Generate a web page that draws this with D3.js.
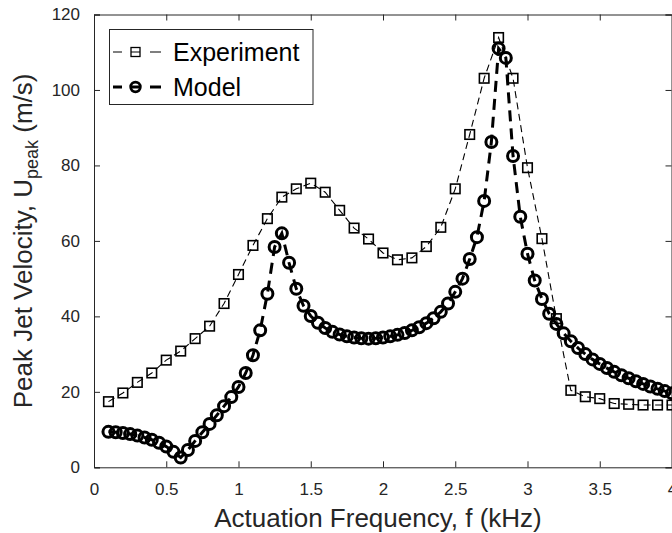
<!DOCTYPE html>
<html>
<head>
<meta charset="utf-8">
<script src="https://cdn.jsdelivr.net/npm/d3@7"></script>
<style>
  html, body { margin: 0; padding: 0; background: #fff; }
  svg { display: block; font-family: "Liberation Sans", Arial, Helvetica, sans-serif; }
</style>
</head>
<body>
<svg id="chart" width="672" height="533"></svg>
<script>
// ---- data ----
const expFreq = [0.1,0.2,0.3,0.4,0.5,0.6,0.7,0.8,0.9,1.0,1.1,1.2,1.3,1.4,1.5,1.6,1.7,1.8,1.9,2.0,
                 2.1,2.2,2.3,2.4,2.5,2.6,2.7,2.8,2.9,3.0,3.1,3.2,3.3,3.4,3.5,3.6,3.7,3.8,3.9,4.0];
const expVel  = [17.4,19.7,22.5,25.0,28.4,30.8,34.1,37.4,43.4,51.1,58.8,65.9,71.6,73.8,75.3,72.9,68.1,63.4,60.5,56.8,
                 55.0,55.5,58.5,63.6,73.8,88.2,103.1,113.9,103.1,79.4,60.6,39.4,20.4,18.7,18.2,16.9,16.7,16.5,16.5,16.5];

const modelFreq = [0.10,0.15,0.20,0.25,0.30,0.35,0.40,0.45,0.50,0.55,0.60,0.65,0.70,0.75,0.80,0.85,0.90,0.95,
                   1.00,1.05,1.10,1.15,1.20,1.25,1.30,1.35,1.40,1.45,1.50,1.55,1.60,1.65,1.70,1.75,1.80,1.85,1.90,1.95,
                   2.00,2.05,2.10,2.15,2.20,2.25,2.30,2.35,2.40,2.45,2.50,2.55,2.60,2.65,2.70,2.75,2.80,2.85,2.90,2.95,
                   3.00,3.05,3.10,3.15,3.20,3.25,3.30,3.35,3.40,3.45,3.50,3.55,3.60,3.65,3.70,3.75,3.80,3.85,3.90,3.95,4.00];
const modelVel  = [9.4,9.3,9.1,8.8,8.4,7.9,7.3,6.5,5.5,4.1,2.6,4.6,7.0,9.3,11.5,13.8,16.2,18.6,
                   21.3,25.0,29.7,36.3,46.0,58.4,62.0,54.2,47.3,42.8,40.1,38.3,36.9,35.9,35.2,34.7,34.4,34.2,34.1,34.2,
                   34.4,34.7,35.1,35.6,36.3,37.1,38.2,39.5,41.2,43.4,46.5,50.0,55.2,61.0,70.6,86.2,111.0,108.5,82.5,66.4,
                   56.6,49.5,44.6,40.7,38.0,35.5,33.4,31.6,30.0,28.6,27.4,26.3,25.3,24.4,23.6,22.8,22.1,21.4,20.8,20.2,19.6];

const xTicks = [0,0.5,1,1.5,2,2.5,3,3.5,4];
const yTicks = [0,20,40,60,80,100,120];
const xLabel = "Actuation Frequency, f (kHz)";
const legendNames = ["Experiment","Model"];

// ---- layout ----
const svg = d3.select("#chart");
const L = 94, R = 672, T = 14.5, B = 467.3;
const axisColor = "#262626";
const x = d3.scaleLinear().domain([0,4]).range([L,R]);
const y = d3.scaleLinear().domain([0,120]).range([B,T]);

// ---- axes (MATLAB style, ticks inward, box) ----
const tickLen = 6;
const gAx = svg.append("g");
const xAxisB = d3.axisBottom(x).tickValues(xTicks).tickSize(-tickLen).tickPadding(tickLen + 10).tickFormat(d3.format("~g"));
gAx.append("g").attr("transform", `translate(0,${B})`).call(xAxisB)
  .call(g => { g.select(".domain").attr("stroke", axisColor); g.selectAll(".tick line").attr("stroke", axisColor);
               g.selectAll("text").attr("fill", axisColor).attr("font-size", 17).attr("font-family", null); });
const xAxisT = d3.axisTop(x).tickValues(xTicks).tickSize(-tickLen).tickFormat("");
gAx.append("g").attr("transform", `translate(0,${T})`).call(xAxisT)
  .call(g => { g.select(".domain").attr("stroke", axisColor); g.selectAll(".tick line").attr("stroke", axisColor); });
const yAxisL = d3.axisLeft(y).tickValues(yTicks).tickSize(-tickLen).tickPadding(tickLen + 8).tickFormat(d3.format("d"));
gAx.append("g").attr("transform", `translate(${L},0)`).call(yAxisL)
  .call(g => { g.select(".domain").attr("stroke", axisColor); g.selectAll(".tick line").attr("stroke", axisColor);
               g.selectAll("text").attr("fill", axisColor).attr("font-size", 17).attr("font-family", null); });
const yAxisR = d3.axisRight(y).tickValues(yTicks).tickSize(-tickLen).tickFormat("");
gAx.append("g").attr("transform", `translate(${R - 0.5},0)`).call(yAxisR)
  .call(g => { g.select(".domain").attr("stroke", axisColor); g.selectAll(".tick line").attr("stroke", axisColor); });
gAx.selectAll(".domain").attr("stroke-width", 1);

// axis labels
svg.append("text").attr("x", 378).attr("y", 526.5).attr("text-anchor", "middle")
  .attr("font-size", 26).attr("fill", axisColor).text(xLabel);

const yl = svg.append("text").attr("transform", `translate(32,${(T + B) / 2}) rotate(-90)`)
  .attr("text-anchor", "middle").attr("font-size", 26).attr("fill", axisColor);
yl.append("tspan").text("Peak Jet Velocity, U");
yl.append("tspan").attr("font-size", 18).attr("dy", 6).text("peak");
yl.append("tspan").attr("dy", -6).text(" (m/s)");

// ---- series ----
const expData = expFreq.map((f, i) => ({f, v: expVel[i]}));
const modelData = modelFreq.map((f, i) => ({f, v: modelVel[i]}));
const line = d3.line().x(d => x(d.f)).y(d => y(d.v));

const gData = svg.append("g");
// Experiment
gData.append("path").datum(expData).attr("d", line)
  .attr("fill", "none").attr("stroke", "#000").attr("stroke-width", 1.1).attr("stroke-dasharray", "7,4.5");
const sq = 9.5;
gData.selectAll("rect.exp").data(expData).join("rect").attr("class", "exp")
  .attr("x", d => x(d.f) - sq / 2).attr("y", d => y(d.v) - sq / 2)
  .attr("width", sq).attr("height", sq)
  .attr("fill", "none").attr("stroke", "#000").attr("stroke-width", 1.6);

// Model
gData.append("path").datum(modelData).attr("d", line)
  .attr("fill", "none").attr("stroke", "#000").attr("stroke-width", 3).attr("stroke-dasharray", "11,7");
gData.selectAll("circle.model").data(modelData).join("circle").attr("class", "model")
  .attr("cx", d => x(d.f)).attr("cy", d => y(d.v)).attr("r", 5.5)
  .attr("fill", "none").attr("stroke", "#000").attr("stroke-width", 3);

// ---- legend ----
const lg = svg.append("g");
lg.append("rect").attr("x", 109.5).attr("y", 29.5).attr("width", 203.5).attr("height", 75)
  .attr("fill", "#fff").attr("stroke", axisColor).attr("stroke-width", 1);
const rows = [52, 87];
lg.append("line").attr("x1", 113).attr("x2", 167).attr("y1", rows[0]).attr("y2", rows[0])
  .attr("stroke", "#000").attr("stroke-width", 1.1).attr("stroke-dasharray", "9,9,9,10,11");
lg.append("rect").attr("x", 135.5 - 4.5).attr("y", rows[0] - 4.5).attr("width", 9).attr("height", 9)
  .attr("fill", "none").attr("stroke", "#000").attr("stroke-width", 1.3);
lg.append("line").attr("x1", 113).attr("x2", 167).attr("y1", rows[1]).attr("y2", rows[1])
  .attr("stroke", "#000").attr("stroke-width", 3).attr("stroke-dasharray", "9,9,9,10,11");
lg.append("circle").attr("cx", 135.5).attr("cy", rows[1]).attr("r", 4.8)
  .attr("fill", "none").attr("stroke", "#000").attr("stroke-width", 2.8);
lg.selectAll("text.leg").data(legendNames).join("text").attr("class", "leg")
  .attr("x", 173).attr("y", (d, i) => rows[i] + 8.5)
  .attr("font-size", 25).attr("fill", "#000").text(d => d);
</script>
</body>
</html>
